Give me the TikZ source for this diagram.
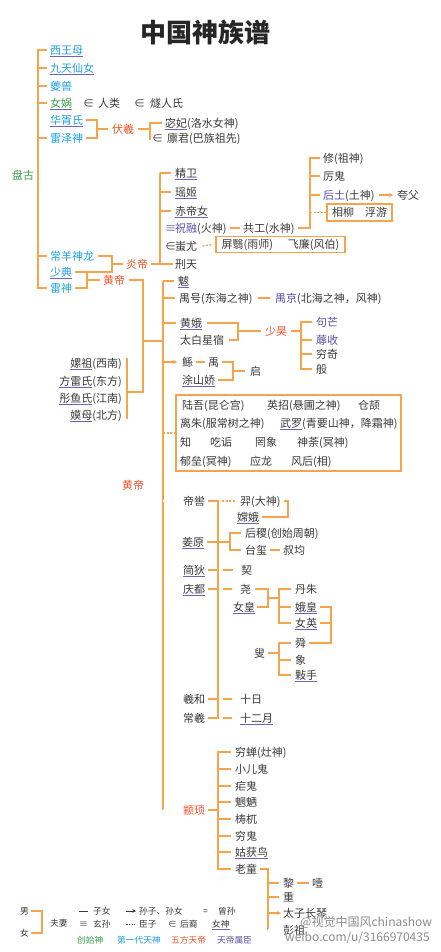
\documentclass[tikz,border=0pt]{standalone}
\usepackage{fontspec}
\setmainfont{Noto Sans CJK SC}
\usetikzlibrary{arrows.meta}
\definecolor{lc}{HTML}{F7A34B}
\definecolor{blu}{HTML}{1EA0DC}
\definecolor{grn}{HTML}{3C9E4A}
\definecolor{rd}{HTML}{E9552D}
\definecolor{pur}{HTML}{5A4FA5}
\definecolor{ulc}{HTML}{6E63B8}
\definecolor{txt}{HTML}{3A3A3A}
\newsavebox\ulbox
\newcommand\ulx[1]{\sbox\ulbox{#1}\rlap{\textcolor{ulc}{\rule[-2.7pt]{\wd\ulbox}{0.9pt}}}\usebox\ulbox}
\newcommand\fs{\fontsize{11}{13}\selectfont}
\newcommand\lfs{\fontsize{8.7}{10}\selectfont}
\tikzset{
  t/.style={anchor=west, inner sep=0pt, text height=9.4pt, text depth=1.2pt, text=txt, font=\fs},
  te/.style={t, anchor=east},
  lg/.style={t, font=\lfs, text height=7.4pt, text depth=1pt},
  cb/.style={text=blu}, cgr/.style={text=grn}, cr/.style={text=rd}, cp/.style={text=pur},
  ln/.style={draw=lc, line width=1.3pt},
  dl/.style={draw=lc, line width=1.3pt, dash pattern=on 2pt off 1.5pt},
  dbl/.style={draw=lc, line width=0.8pt, double=white, double distance=1.1pt},
  arr/.style={draw=lc, line width=1.2pt, -{Stealth[length=4pt,width=4pt]}},
  bx/.style={draw=lc, line width=1.2pt, inner sep=0pt, text=txt, font=\fs},
  sym/.style={draw=txt, line width=1pt},
}
\begin{document}
\begin{tikzpicture}[x=1pt,y=-1pt]
\useasboundingbox (0,0) rectangle (440,952);
\fill[white] (0,0) rectangle (440,952);

\node[font=\fontsize{26}{30}\selectfont\bfseries, text=black!85, inner sep=0pt] (title) at (205,32) {中国神族谱};

% ---- first column
\node[t,cb] (xwm) at (50,50) {\ulx{西王母}};
\node[t,cb] (jtxn) at (50,68) {\ulx{九天仙女}};
\node[t,cb] (kui) at (50,86) {夔兽};
\node[t,cgr] (nw) at (50,103) {\ulx{女娲}};
\node[t] (e1) at (83,103) {∈};
\node[t] (rl) at (98,103) {人类};
\node[t] (e2) at (134,103) {∈};
\node[t] (srs) at (150,103) {燧人氏};
\node[t,cb] (hxs) at (50,120) {\ulx{华胥氏}};
\node[t,cb] (lzs) at (50,138) {雷泽神};
\node[t,cr] (fx) at (112,129) {伏羲};
\node[t] (mf) at (165,123) {\ulx{宓妃}(洛水女神)};
\node[t] (e3) at (152,138) {∈};
\node[t] (ljj) at (167,138) {廪君(巴族祖先)};
\node[t,cgr] (pg) at (12,175) {盘古};
\node[t,cb] (cysl) at (50,256) {常羊神龙};
\node[t,cb] (sd) at (50,272) {\ulx{少典}};
\node[t,cb] (ls) at (50,288) {雷神};
\node[t,cr] (yd) at (126,264) {炎帝};
\node[t,cr] (hd) at (103,280) {黄帝};

\coordinate (L) at (38,50);
\draw[ln] ([xshift=-3pt]xwm.west) -- (L |- xwm.west) -- (L |- ls.west) -- ([xshift=-3pt]ls.west);
\foreach \n in {jtxn,kui,nw,lzs,cysl} \draw[ln] (L |- \n.west) -- ([xshift=-3pt]\n.west);

\coordinate (B1) at (97,0);
\draw[ln] ([xshift=3pt]hxs.east) -- (B1 |- hxs.east) -- (B1 |- lzs.east) -- ([xshift=3pt]lzs.east);
\draw[ln] (B1 |- fx.west) -- ([xshift=-4pt]fx.west);
\coordinate (B2) at (150,0);
\draw[ln] ([xshift=4pt]fx.east) -- (B2 |- fx.east);
\draw[ln] ([xshift=-3pt]mf.west) -- (B2 |- mf.west) -- ([yshift=-2pt]B2 |- e3.west);

\coordinate (B3) at (112,0);
\draw[ln] ([xshift=4pt]cysl.east) -- (B3 |- cysl.east) -- (B3 |- sd.east) -- ([xshift=3pt]sd.east);
\draw[ln] (B3 |- yd.west) -- ([xshift=-3pt]yd.west);
\coordinate (B4) at (87,0);
\draw[ln] (B4 |- sd.east) -- (B4 |- ls.east) -- ([xshift=3pt]ls.east);
\draw[ln] (B4 |- hd.west) -- ([xshift=-3pt]hd.west);

% ---- Yan Di
\node[t] (jw) at (175,173) {\ulx{精卫}};
\node[t] (yj) at (175,192) {\ulx{瑶姬}};
\node[t] (cdn) at (175,211) {\ulx{赤帝女}};
\node[t,cp] (eq1) at (165,228) {≡};
\node[t] (zr) at (175,228) {\textcolor{pur}{祝融}(火神)};
\node[t] (e4) at (165,246) {∈};
\node[t] (cy) at (175,246) {蚩尤};
\node[t] (xt) at (175,264) {刑天};
\coordinate (Y) at (160,0);
\draw[ln] ([xshift=3pt]yd.east) -- ([xshift=-2pt]xt.west);
\draw[ln] (Y |- jw.west) -- (Y |- xt.west);
\foreach \n in {jw,yj,cdn} \draw[ln] (Y |- \n.west) -- ([xshift=-4pt]\n.west);

\node[t] (gg) at (243,228) {共工(水神)};
\draw[ln] ([xshift=3pt]zr.east) -- ([xshift=-3pt]gg.west);
\node[t] (xiu) at (323,158) {修(祖神)};
\node[t] (lg) at (323,176) {厉鬼};
\node[t] (ht) at (323,195) {\textcolor{pur}{后土}(土神)};
\node[t] (kf) at (397,195) {夸父};
\draw[arr] ([xshift=4pt]ht.east) -- ([xshift=-4pt]kf.west);
\node[bx, minimum width=65pt, minimum height=17pt] (xl) at (359.5,212.5) {相柳\hspace{11pt}浮游};
\coordinate (G) at (310,0);
\draw[ln] ([xshift=3pt]gg.east) -- (G |- gg.east) -- (G |- xiu.west) -- ([xshift=-3pt]xiu.west);
\foreach \n in {lg,ht} \draw[ln] (G |- \n.west) -- ([xshift=-3pt]\n.west);
\draw[dl] (G |- xl.west) -- (xl.west);
\node[bx, minimum width=129pt, minimum height=15.5pt] (fb) at (280.5,244.5) {屏翳(雨师)\hspace{15pt}飞廉(风伯)};
\draw[dl] ([xshift=5pt]cy.east) -- ([xshift=-3pt]fb.west);

% ---- Huang Di
\node[te] (lz) at (122,363) {\ulx{嫘祖}(西南)};
\node[te] (fls) at (122,381) {\ulx{方雷氏}(东方)};
\node[te] (tys) at (122,398) {\ulx{彤鱼氏}(江南)};
\node[te] (mm) at (122,415) {\ulx{嫫母}(北方)};
\coordinate (X) at (143,0);
\coordinate (Wt) at (127,358);
\coordinate (Wb) at (127,419);
\coordinate (Wm) at (127,392);
\coordinate (Xh) at (143,341);
\coordinate (H) at (163,0);
\draw[ln] (Wt) -- (Wb);
\draw[ln] ([xshift=4pt]hd.east) -- (X |- hd.east) -- (X |- Wm) -- (Wm);
\draw[ln] (Xh) -- (H |- Xh);

\node[t] (ba) at (178,281) {\ulx{魃}};
\node[t] (yh) at (179,298) {禺号(东海之神)};
\node[t] (yjg) at (275,298) {\textcolor{pur}{禺京}(北海之神，风神)};
\draw[ln] ([xshift=5pt]yh.east) -- ([xshift=-5pt]yjg.west);
\node[t] (he) at (180,323) {\ulx{黄娥}};
\node[t] (tbxs) at (180,340) {太白星宿};
\node[t,cr] (sh) at (265,331) {少昊};
\coordinate (S1) at (238,0);
\draw[ln] ([xshift=5pt]he.east) -- (S1 |- he.east) -- (S1 |- tbxs.east) -- ([xshift=5pt]tbxs.east);
\draw[ln] (S1 |- sh.west) -- ([xshift=-4pt]sh.west);
\node[t,cp] (gm) at (316,322) {句芒};
\node[t,cp] (rs) at (316,340) {蓐收};
\node[t] (qq) at (316,354) {穷奇};
\node[t] (ban) at (316,369) {般};
\coordinate (S) at (301,0);
\draw[ln] ([xshift=4pt]sh.east) -- (S |- sh.east);
\draw[ln] ([xshift=-4pt]gm.west) -- (S |- gm.west) -- (S |- ban.west) -- ([xshift=-4pt]ban.west);
\foreach \n in {rs,qq} \draw[ln] (S |- \n.west) -- ([xshift=-4pt]\n.west);

\node[t] (gun) at (182,362) {鲧};
\node[t] (yu) at (208,362) {禹};
\node[t] (tsj) at (182,380) {\ulx{涂山娇}};
\node[t] (qi) at (250,371) {启};
\draw[ln] ([xshift=3pt]gun.east) -- ([xshift=-3pt]yu.west);
\coordinate (U) at (233,0);
\draw[ln] ([xshift=3pt]yu.east) -- (U |- yu.east) -- (U |- tsj.east) -- ([xshift=3pt]tsj.east);
\draw[ln] (U |- qi.west) -- ([xshift=-5pt]qi.west);

\node[bx, minimum width=225pt, minimum height=76pt] (bb) at (288.5,433) {};
\node[t] (lw) at (182,405) {陆吾(昆仑宫)};
\node[t] (yz) at (267,405) {英招(悬圃之神)};
\node[t] (cj) at (358,405) {仓颉};
\node[t] (lzh) at (180,423) {离朱(服常树之神)};
\node[t] (wl) at (280,423) {\ulx{武罗}(青要山神，降霜神)};
\node[t] (zhi) at (180,442) {知};
\node[t] (chg) at (210,442) {吃诟};
\node[t] (wx) at (255,442) {罔象};
\node[t] (st) at (297,442) {神荼(冥神)};
\node[t] (yl) at (180,461) {郁垒(冥神)};
\node[t] (ylg) at (250,461) {应龙};
\node[t] (fh) at (291,461) {风后(相)};

\node[t,cr] (hd2) at (122,485) {黄帝};

% ---- Di Ku
\node[t] (dk) at (183,501) {帝喾};
\node[t] (yi) at (240,501) {羿(大神)};
\node[t] (ce) at (237,517) {\ulx{嫦娥}};
\node[t] (jy) at (182,542) {\ulx{姜原}};
\node[t] (hj) at (245,533) {后稷(创始周朝)};
\node[t] (tx) at (245,550) {台玺};
\node[t] (sj) at (283,550) {叔均};
\node[t] (jd) at (183,570) {\ulx{简狄}};
\node[t] (qie) at (241,570) {契};
\node[t] (qd) at (183,589) {\ulx{庆都}};
\node[t] (yao) at (240,589) {尧};
\node[t] (nh) at (233,607) {\ulx{女皇}};
\node[t] (dz) at (295,589) {丹朱};
\node[t] (eh) at (295,607) {\ulx{娥皇}};
\node[t] (ny) at (295,623) {\ulx{女英}};
\node[t] (gs) at (254,653) {叟};
\node[t] (shun) at (295,643) {舜};
\node[t] (xiang) at (295,660) {象};
\node[t] (ks) at (295,675) {\ulx{敤手}};
\node[t] (xh) at (183,699) {羲和};
\node[t] (sr) at (240,699) {十日};
\node[t] (cx) at (183,718) {常羲};
\node[t] (sey) at (240,718) {\ulx{十二月}};

\coordinate (D) at (218,0);
\draw[ln] ([xshift=3pt]dk.east) -- (D |- dk.east) -- (D |- cx.east) -- ([xshift=3pt]cx.east);
\draw[dl] ([xshift=4pt]D |- dk.east) -- ([xshift=-4pt]yi.west);
\coordinate (E) at (288,0);
\draw[ln] ([xshift=3pt]yi.east) -- (E |- yi.east) -- (E |- ce.east) -- ([xshift=3pt]ce.east);
\coordinate (F) at (230,0);
\draw[ln] ([xshift=3pt]jy.east) -- (F |- jy.east);
\draw[ln] ([xshift=-4pt]hj.west) -- (F |- hj.west) -- (F |- tx.west) -- ([xshift=-4pt]tx.west);
\draw[ln] ([xshift=3pt]tx.east) -- ([xshift=-3pt]sj.west);
\foreach \a/\b in {jd/qie,qd/yao,xh/sr,cx/sey} {
  \draw[ln] ([xshift=3pt]\a.east) -- (D |- \a.east);
  \draw[ln] ([xshift=5pt]D |- \a.east) -- ([xshift=-8pt]\b.west);
}
\coordinate (G1) at (268,0);
\coordinate (G2) at (279,0);
\coordinate (G3) at (331,0);
\coordinate (Ym) at (268,598);
\draw[ln] ([xshift=4pt]yao.east) -- (G1 |- yao.east) -- (G1 |- nh.east) -- ([xshift=2pt]nh.east);
\draw[ln] (Ym) -- (G2 |- Ym);
\draw[ln] ([xshift=-4pt]dz.west) -- (G2 |- dz.west) -- (G2 |- ny.west) -- ([xshift=-4pt]ny.west);
\draw[ln] (G2 |- eh.west) -- ([xshift=-4pt]eh.west);
\draw[ln] ([xshift=3pt]eh.east) -- (G3 |- eh.east) -- (G3 |- shun.east) -- ([xshift=3pt]shun.east);
\draw[ln] ([xshift=3pt]ny.east) -- (G3 |- ny.east);
\draw[ln] ([xshift=3pt]gs.east) -- (G2 |- gs.east);
\draw[ln] ([xshift=-4pt]shun.west) -- (G2 |- shun.west) -- (G2 |- ks.west) -- ([xshift=-4pt]ks.west);
\draw[ln] (G2 |- xiang.west) -- ([xshift=-4pt]xiang.west);

% ---- Zhuanxu
\node[t,cr] (zx) at (183,810) {颛顼};
\node[t] (qc) at (235,752) {穷蝉(灶神)};
\node[t] (xeg) at (235,769) {小儿鬼};
\node[t] (nue) at (235,786) {疟鬼};
\node[t] (wlg) at (235,802) {魍魉};
\node[t] (tw) at (235,819) {梼杌};
\node[t] (qg) at (235,836) {穷鬼};
\node[t] (ghn) at (235,852) {\ulx{姑获鸟}};
\node[t] (lt) at (235,869) {老童};
\coordinate (Z) at (218,0);
\draw[ln] ([xshift=3pt]zx.east) -- (Z |- zx.east);
\draw[ln] ([xshift=-4pt]qc.west) -- (Z |- qc.west) -- (Z |- lt.west) -- ([xshift=-4pt]lt.west);
\foreach \n in {xeg,nue,wlg,tw,qg,ghn} \draw[ln] (Z |- \n.west) -- ([xshift=-4pt]\n.west);

\node[t] (li) at (283,883) {黎};
\node[t] (ye) at (312,883) {噎};
\node[t] (zh) at (283,897) {重};
\node[t] (tz) at (283,913) {太子长琴};
\node[t] (pz) at (283,930) {彭祖};
\coordinate (T) at (268,0);
\draw[ln] ([xshift=3pt]lt.east) -- (T |- lt.east) -- (T |- pz.west);
\foreach \n in {li,zh} \draw[ln] (T |- \n.west) -- ([xshift=-4pt]\n.west);
\draw[arr] (T |- tz.west) -- ([xshift=-2pt]tz.west);
\draw[dbl] (T |- pz.west) -- ([xshift=-3pt]pz.west);
\draw[ln] ([xshift=3pt]li.east) -- ([xshift=-3pt]ye.west);

% ---- Huang Di main trunk
\draw[ln] (H |- ba.west) -- (H |- zx.west);
\foreach \n in {ba,yh,he} \draw[ln] (H |- \n.west) -- ([xshift=-4pt]\n.west);
\draw[arr] (H |- gun.west) -- ([xshift=-5pt]gun.west);
\draw[dl] (H |- bb.west) -- (bb.west);
\draw[dbl] (H |- dk.west) -- ([xshift=-8pt]dk.west);
\draw[dbl] (H |- zx.west) -- ([xshift=-8pt]zx.west);

% ---- legend
\node[lg] (nan) at (20,911) {男};
\node[lg] (nv) at (20,933) {女};
\coordinate (K) at (42,0);
\draw[ln] ([xshift=2pt]nan.east) -- (K |- nan.east) -- (K |- nv.east) -- ([xshift=2pt]nv.east);
\node[lg] (fq) at (50,923) {夫妻};
\node[lg] (zn) at (93,911) {子女};
\draw[sym] ([xshift=-14pt]zn.west) -- ([xshift=-5pt]zn.west);
\node[lg] (szsn) at (139,911) {孙子、孙女};
\draw[sym,-{Stealth[length=3.5pt,width=3.5pt]}] ([xshift=-13pt]szsn.west) -- ([xshift=-3pt]szsn.west);
\node[lg] (eqs) at (203,911) {=};
\node[lg] (zs) at (218,911) {曾孙};
\node[lg] (eq3) at (79,924) {≡};
\node[lg] (xs) at (93,924) {玄孙};
\node[lg] (cz) at (139,924) {臣子};
\draw[sym, dash pattern=on 1.6pt off 1.2pt] ([xshift=-13pt]cz.west) -- ([xshift=-4pt]cz.west);
\node[lg] (e5) at (168,924) {∈};
\node[lg] (hy) at (180,924) {后裔};
\node[lg] (ns) at (212,924) {\ulx{女神}};
\node[lg,cgr] (css) at (77,940) {创始神};
\node[lg,cb] (dyd) at (117,940) {第一代天神};
\node[lg,cr] (wf) at (171,940) {五方天帝};
\node[lg,cp] (tds) at (217,940) {天帝属臣};

% ---- watermark
\node[anchor=west, inner sep=0pt, text=black!45, font=\fontsize{12}{14}\selectfont] (wm1) at (300,922) {@视觉中国风chinashow};
\node[anchor=west, inner sep=0pt, text=black!45, font=\fontsize{12}{14}\selectfont] (wm2) at (285,938) {weibo.com/u/3166970435};
\end{tikzpicture}
\end{document}
